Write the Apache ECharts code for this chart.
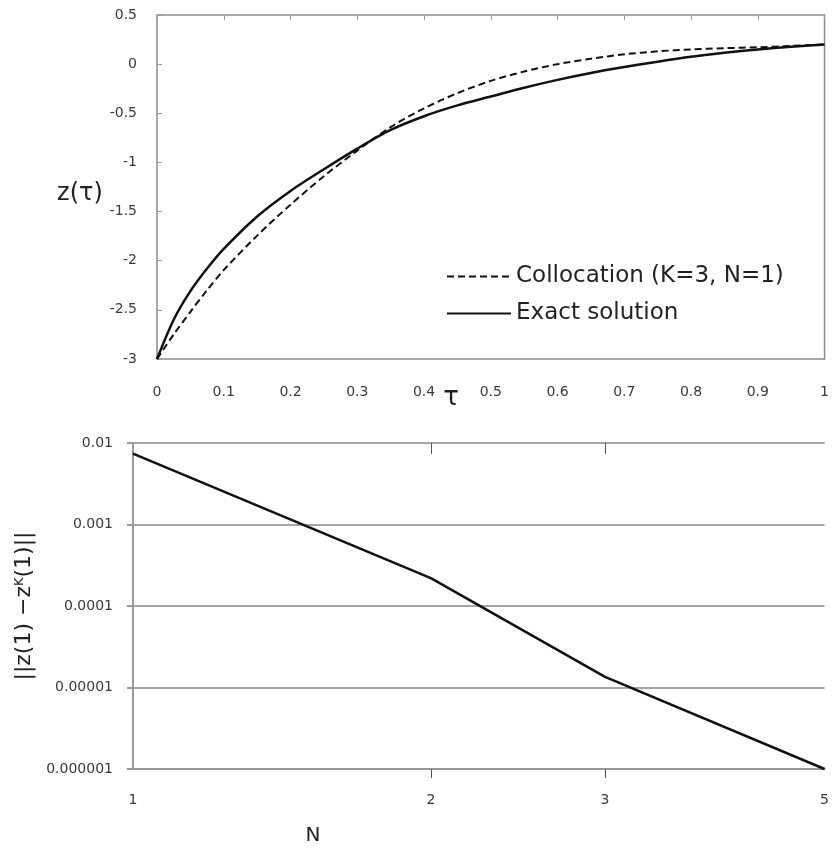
<!DOCTYPE html>
<html>
<head>
<meta charset="utf-8">
<script src="https://cdn.jsdelivr.net/npm/echarts@6/dist/echarts.min.js"></script>
<style>
  html, body { margin: 0; padding: 0; background: #fff; }
  #chart { width: 832px; height: 848px; }
</style>
</head>
<body>
<div id="chart"></div>
<script>
// top panel: z(tau), collocation vs exact
const tau = [0, 0.025, 0.05, 0.075, 0.1, 0.15, 0.2, 0.25, 0.3, 0.35, 0.4, 0.45, 0.5, 0.55, 0.6, 0.65, 0.7, 0.75, 0.8, 0.85, 0.9, 0.95, 1]
const exact = [-3, -2.6, -2.31, -2.08, -1.88, -1.55, -1.29, -1.07, -0.86, -0.67, -0.53, -0.42, -0.33, -0.24, -0.16, -0.09, -0.03, 0.025, 0.075, 0.115, 0.15, 0.178, 0.2]
const colloc = [-3, -2.75, -2.52, -2.3, -2.095, -1.745, -1.43, -1.14, -0.88, -0.64, -0.45, -0.295, -0.17, -0.075, 0, 0.055, 0.1, 0.13, 0.15, 0.162, 0.172, 0.185, 0.2]

// bottom panel: error at tau=1 vs N
const nValues = [1, 2, 3, 5]
const errValues = [7.4e-3, 2.2e-4, 1.35e-5, 1.0e-6]
const nTicks = [2, 3]

const axisGray = '#999'
const labelColor = '#3a3a3a'
const font = 'DejaVu Sans'

const pairs = (xs, ys) => xs.map((x, i) => [x, ys[i]])

const chart = echarts.init(document.getElementById('chart'))

const option = {
  animation: false,
  backgroundColor: '#fff',
  textStyle: { fontFamily: font },
  grid: [
    { left: 157, right: 3, top: 15, height: 344, show: true, borderColor: '#8c8c8c', borderWidth: 1.5 },
    { left: 133, right: 1, top: 443, height: 326 }
  ],
  legend: {
    orient: 'vertical',
    left: 441,
    top: 260,
    itemWidth: 64,
    itemHeight: 14,
    itemGap: 14,
    itemStyle: { opacity: 0 },
    textStyle: { fontSize: 23, color: '#222', fontFamily: font },
    data: ['Collocation (K=3, N=1)', 'Exact solution']
  },
  xAxis: [
    {
      gridIndex: 0, type: 'value', min: 0, max: 1, interval: 0.1,
      axisLine: { show: false },
      axisTick: { show: false },
      splitLine: { show: false },
      axisLabel: { color: labelColor, fontSize: 14, margin: 26, fontFamily: font }
    },
    {
      gridIndex: 0, type: 'value', position: 'top', min: 0, max: 1, interval: 0.1,
      axisLine: { show: false },
      axisTick: { show: true, inside: true, length: 5, lineStyle: { color: axisGray } },
      axisLabel: { show: false },
      splitLine: { show: false }
    },
    {
      gridIndex: 1, type: 'log', min: 1, max: 5,
      axisLine: { show: true, lineStyle: { color: axisGray, width: 2 } },
      axisTick: { show: true, length: 9, customValues: nTicks, lineStyle: { color: '#555', width: 1 } },
      splitLine: { show: false },
      minorTick: { show: false },
      axisLabel: { color: labelColor, fontSize: 14, margin: 24, fontFamily: font, customValues: nValues }
    },
    {
      gridIndex: 1, type: 'log', min: 1, max: 5,
      axisLine: { show: false },
      axisTick: { show: true, inside: true, length: 11, customValues: nTicks, lineStyle: { color: '#555', width: 1 } },
      splitLine: { show: false },
      axisLabel: { show: false }
    }
  ],
  yAxis: [
    {
      gridIndex: 0, type: 'value', min: -3, max: 0.5, interval: 0.5,
      axisLine: { show: false },
      axisTick: { show: true, inside: true, length: 5, lineStyle: { color: axisGray } },
      splitLine: { show: false },
      axisLabel: { color: labelColor, fontSize: 14, margin: 20, fontFamily: font }
    },
    {
      gridIndex: 1, type: 'log', logBase: 10, min: 0.000001, max: 0.01,
      axisLine: { show: true, lineStyle: { color: axisGray, width: 2 } },
      axisTick: { show: true, length: 6, lineStyle: { color: axisGray, width: 2 } },
      splitLine: { show: true, lineStyle: { color: '#a6a6a6', width: 2 } },
      minorTick: { show: false },
      axisLabel: {
        color: labelColor, fontSize: 14, margin: 20, fontFamily: font,
        formatter: v => v.toFixed(Math.max(0, Math.round(-Math.log10(v))))
      },
      name: '||z(1) \u2212z{sup|K}(1)||',
      nameLocation: 'middle',
      nameGap: 90,
      nameTextStyle: {
        fontSize: 22, color: '#222', fontFamily: font,
        rich: { sup: { fontSize: 13, verticalAlign: 'top', color: '#222', fontFamily: font } }
      }
    }
  ],
  graphic: [
    { type: 'text', x: 80, y: 194, style: { text: 'z(\u03c4)', font: '24px DejaVu Sans', fill: '#222', align: 'center', verticalAlign: 'middle' } },
    { type: 'text', x: 451, y: 398, style: { text: '\u03c4', font: '26px DejaVu Sans', fill: '#222', align: 'center', verticalAlign: 'middle' } },
    { type: 'text', x: 313, y: 836, style: { text: 'N', font: '20px DejaVu Sans', fill: '#222', align: 'center', verticalAlign: 'middle' } }
  ],
  series: [
    {
      name: 'Collocation (K=3, N=1)',
      type: 'line',
      xAxisIndex: 0, yAxisIndex: 0,
      data: pairs(tau, colloc),
      symbol: 'none',
      smooth: 0.3,
      lineStyle: { color: '#111', width: 2, type: [7, 4] },
      itemStyle: { color: '#111' }
    },
    {
      name: 'Exact solution',
      type: 'line',
      xAxisIndex: 0, yAxisIndex: 0,
      data: pairs(tau, exact),
      symbol: 'none',
      smooth: 0.3,
      lineStyle: { color: '#111', width: 2.5 },
      itemStyle: { color: '#111' }
    },
    {
      name: 'error',
      type: 'line',
      xAxisIndex: 2, yAxisIndex: 1,
      data: pairs(nValues, errValues),
      symbol: 'none',
      lineStyle: { color: '#111', width: 2.5 },
      itemStyle: { color: '#111' }
    }
  ]
}

chart.setOption(option)
</script>
</body>
</html>
